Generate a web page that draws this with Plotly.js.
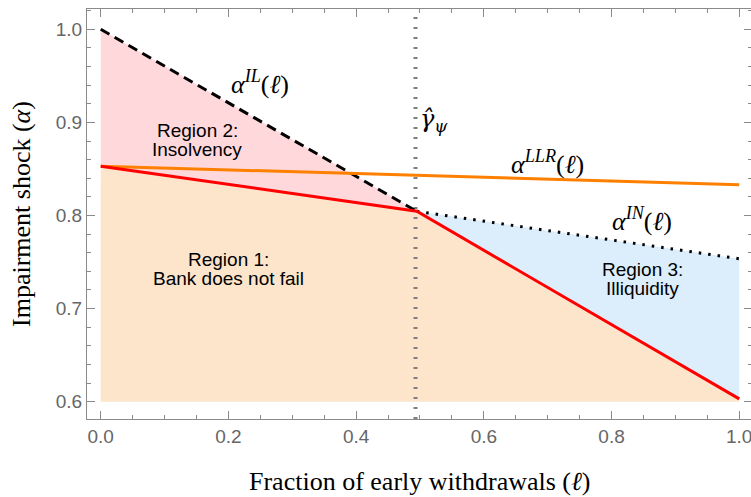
<!DOCTYPE html>
<html>
<head>
<meta charset="utf-8">
<script src="https://cdn.plot.ly/plotly-3.0.1.min.js"></script>
<style>
html,body{margin:0;padding:0;overflow:hidden;background:#fff;}
#chart{width:752px;height:497px;}
</style>
</head>
<body>
<div id="chart"></div>
<script>
// ---- data ----
const gammaHat = 0.493;           // vertical threshold
const floorY = 0.6;               // bottom of shaded regions
const ilX = [0, 0.495];           // alpha^IL (dashed)
const ilY = [1.0, 0.8045];
const llrX = [0, 1];              // alpha^LLR (orange)
const llrY = [0.853, 0.833];
const redX = [0, 0.495, 1];       // failure boundary (red)
const redY = [0.853, 0.8045, 0.603];
const inX = [0.495, 1];           // alpha^IN (dotted)
const inY = [0.8045, 0.7535];
const xTicks = [0, 0.2, 0.4, 0.6, 0.8, 1.0];
const xTickLabels = ['0.0', '0.2', '0.4', '0.6', '0.8', '1.0'];
const yTicks = [0.6, 0.7, 0.8, 0.9, 1.0];
const yTickLabels = ['0.6', '0.7', '0.8', '0.9', '1.0'];
const xRange = [-0.0215, 1.02];
const yRange = [0.5814, 1.0218];
const regionLines = [
  ['Region 1:', 'Bank does not fail'],
  ['Region 2:', 'Insolvency'],
  ['Region 3:', 'Illiquidity']
];
const curveLabels = [
  '<i>α</i><sup><i>IL</i></sup>(<i>ℓ</i>)',
  '<i>α</i><sup><i>LLR</i></sup>(<i>ℓ</i>)',
  '<i>α</i><sup><i>IN</i></sup>(<i>ℓ</i>)',
  '<i>γ\u0302</i><sub><i>ψ</i></sub>'
];

// ---- polygons for regions built from the curves ----
const r1X = redX.concat([redX[redX.length-1], redX[0]]);
const r1Y = redY.concat([floorY, floorY]);
const r2X = [ilX[0], ilX[1], redX[1], redX[0]];
const r2Y = [ilY[0], ilY[1], redY[1], redY[0]];
const r3X = [inX[0], inX[1], redX[2], redX[1]];
const r3Y = [inY[0], inY[1], redY[2], redY[1]];

const traces = [
  {x: r1X, y: r1Y, type: 'scatter', mode: 'lines', fill: 'toself',
   fillcolor: 'rgb(253,229,204)', line: {width: 0}, hoverinfo: 'skip'},
  {x: r2X, y: r2Y, type: 'scatter', mode: 'lines', fill: 'toself',
   fillcolor: 'rgb(255,216,220)', line: {width: 0}, hoverinfo: 'skip'},
  {x: r3X, y: r3Y, type: 'scatter', mode: 'lines', fill: 'toself',
   fillcolor: 'rgb(220,237,252)', line: {width: 0}, hoverinfo: 'skip'},
  {x: [gammaHat, gammaHat], y: yRange, type: 'scatter', mode: 'lines',
   line: {color: '#7f7f7f', width: 4, dash: '2px,8px'}},
  {x: ilX, y: ilY, type: 'scatter', mode: 'lines',
   line: {color: '#000', width: 3, dash: '10px,6px'}},
  {x: inX, y: inY, type: 'scatter', mode: 'lines',
   line: {color: '#000', width: 3, dash: '2.5px,7px'}},
  {x: llrX, y: llrY, type: 'scatter', mode: 'lines',
   line: {color: 'rgb(255,128,0)', width: 3}},
  {x: redX, y: redY, type: 'scatter', mode: 'lines',
   line: {color: 'rgb(255,0,0)', width: 3}}
];

const sans = 'Liberation Sans, Arial, sans-serif';
const serif = 'Liberation Serif, Times New Roman, serif';
const regFont = {family: sans, size: 19, color: '#000'};
const mathFont = {family: serif, size: 26, color: '#000'};

function regionAnn(lines, x, y) {
  return [
    {x: x, y: y, yshift: 9.5, text: lines[0]},
    {x: x, y: y, yshift: -9.5, text: lines[1]}
  ].map(a => Object.assign(a, {xref: 'x', yref: 'y', showarrow: false,
      font: regFont, xanchor: 'center', yanchor: 'middle'}));
}

const annotations = [].concat(
  regionAnn(regionLines[0], 0.2, 0.742),
  regionAnn(regionLines[1], 0.151, 0.881),
  regionAnn(regionLines[2], 0.848, 0.732),
  [
    {x: 0.25, y: 0.943, text: curveLabels[0]},
    {x: 0.699, y: 0.857, text: curveLabels[1]},
    {x: 0.848, y: 0.796, text: curveLabels[2]},
    {x: 0.497, y: 0.902, text: curveLabels[3], xanchor: 'left',
     font: {family: 'DejaVu Serif, serif', size: 24, color: '#000'}}
  ].map(a => Object.assign({xref: 'x', yref: 'y', showarrow: false,
      font: mathFont, xanchor: 'center', yanchor: 'middle'}, a)),
  [
    {xref: 'paper', yref: 'paper', x: 0.5, y: 0, yshift: -62,
     xanchor: 'center', yanchor: 'middle', showarrow: false,
     text: 'Fraction of early withdrawals (<i>ℓ</i>)', font: mathFont},
    {xref: 'paper', yref: 'paper', x: 0, xshift: -66, y: 0.5,
     xanchor: 'center', yanchor: 'middle', showarrow: false, textangle: -90,
     text: 'Impairment shock (<i>α</i>)', font: mathFont}
  ]
);

const axisCommon = {
  showgrid: false, zeroline: false, showline: true, linecolor: '#8a8a8a',
  linewidth: 1, mirror: 'allticks', ticks: 'inside', ticklen: 8,
  tickcolor: '#8a8a8a', tickwidth: 1, ticklabeloverflow: 'allow',
  tickfont: {family: sans, size: 19, color: '#666'}
};

const layout = {
  width: 752, height: 497,
  margin: {l: 87, r: 0, t: 9, b: 78},
  paper_bgcolor: '#fff', plot_bgcolor: '#fff',
  showlegend: false,
  xaxis: Object.assign({}, axisCommon, {
    range: xRange, tickmode: 'array', tickvals: xTicks, ticktext: xTickLabels,
    minor: {dtick: 0.05, tick0: 0, ticks: 'inside', ticklen: 4, tickcolor: '#8a8a8a'}
  }),
  yaxis: Object.assign({}, axisCommon, {
    range: yRange, tickmode: 'array', tickvals: yTicks, ticktext: yTickLabels,
    minor: {dtick: 0.02, tick0: 0.6, ticks: 'inside', ticklen: 4, tickcolor: '#8a8a8a'}
  }),
  annotations: annotations
};

Plotly.newPlot('chart', traces, layout, {staticPlot: true, displayModeBar: false});
</script>
</body>
</html>
